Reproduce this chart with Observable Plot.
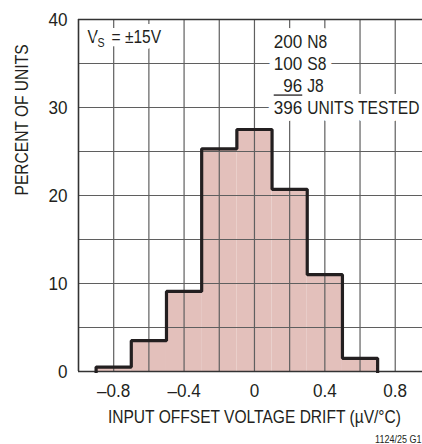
<!DOCTYPE html>
<html><head><meta charset="utf-8">
<script src="https://cdn.jsdelivr.net/npm/d3@7"></script>
<script src="https://cdn.jsdelivr.net/npm/@observablehq/plot@0.6"></script>
<style>
html,body{margin:0;padding:0;background:#fff;}
</style></head><body><div id="chart"></div>
<script>
const binStart = [-0.9, -0.7, -0.5, -0.3, -0.1, 0.1, 0.3, 0.5];
const binEnd   = [-0.7, -0.5, -0.3, -0.1, 0.1, 0.3, 0.5, 0.7];
const percent  = [0.5, 3.5, 9.1, 25.3, 27.5, 20.7, 11.0, 1.5];
const xTicks = [-0.8, -0.4, 0, 0.4, 0.8];
const yTicks = [0, 10, 20, 30, 40];
const xGrid = [-0.8, -0.6, -0.4, -0.2, 0, 0.2, 0.4, 0.6, 0.8];
const yGrid = [5, 10, 15, 20, 25, 30, 35];
const counts = ["200", "100", "\u200796", "396"];
const packages = ["N8", "S8", "J8", "UNITS TESTED"];
const legendRows = [37.5, 35, 32.5, 30];

const FONT = '"Liberation Sans",Arial,sans-serif';
const CONDENSE = 0.82, CONDENSE_NUM = 0.9;

const bins = binStart.map((s, i) => ({x1: s, x2: binEnd[i], y: percent[i]}));
const outline = [{x: binStart[0], y: 0}];
bins.forEach(b => { outline.push({x: b.x1, y: b.y}); outline.push({x: b.x2, y: b.y}); });
outline.push({x: binEnd[binEnd.length - 1], y: 0});
const legend = counts.map((c, i) => ({c, p: packages[i], y: legendRows[i]}));

const fmt = d => d < 0 ? "\u2013" + Math.abs(d) : String(d);
const INK = "#231f20";
const halo = w => ({fill: INK, stroke: "white", strokeWidth: w, paintOrder: "stroke"});

const plot = Plot.plot({
  width: 422, height: 444,
  marginLeft: 78, marginRight: 0, marginTop: 19, marginBottom: 73,
  style: {fontFamily: FONT, fontSize: "19px", color: INK, background: "#fff"},
  x: {domain: [-1, 0.955], ticks: xTicks},
  y: {domain: [0, 40], ticks: yTicks},
  marks: [
    Plot.rectY(bins, {x1: "x1", x2: "x2", y1: 0, y2: "y", fill: "#e3c0bb"}),
    Plot.gridX(xGrid, {stroke: "#5f5f5f", strokeOpacity: 1, strokeWidth: 1.2}),
    Plot.gridY(yGrid, {stroke: "#5f5f5f", strokeOpacity: 1, strokeWidth: 1.2}),
    Plot.ruleY([0, 40], {stroke: "#333", strokeWidth: 1.6}),
    Plot.ruleX([-1], {stroke: "#333", strokeWidth: 1.6}),
    Plot.line(outline, {x: "x", y: "y", stroke: INK, strokeWidth: 3.2, strokeLinejoin: "miter", strokeLinecap: "square"}),
    Plot.axisX(xTicks, {tickSize: 0, tickPadding: 12, tickFormat: fmt, label: null, fill: INK}),
    Plot.axisY(yTicks, {tickSize: 0, tickPadding: 11, label: null, fill: INK}),
    Plot.text(["INPUT OFFSET VOLTAGE DRIFT (\u00b5V/\u00b0C)"], {x: [0], frameAnchor: "bottom", lineAnchor: "middle", dy: 45, fill: INK}),
    Plot.text(["PERCENT OF UNITS"], {frameAnchor: "left", lineAnchor: "middle", dx: -57, rotate: -90, fill: INK}),
    Plot.text(["1124/25 G1"], {frameAnchor: "bottom-right", lineAnchor: "middle", dx: -1, dy: 68, textAnchor: "end", fontSize: 11, fill: INK}),
    // V_S annotation
    Plot.text(["V"], {frameAnchor: "top-left", lineAnchor: "middle", dx: 9, dy: 17, textAnchor: "start", ...halo(12)}),
    Plot.text(["S"], {frameAnchor: "top-left", lineAnchor: "middle", dx: 19, dy: 23, textAnchor: "start", fontSize: 13, ...halo(10)}),
    Plot.text(["= \u00b115V"], {frameAnchor: "top-left", lineAnchor: "middle", dx: 33, dy: 17, textAnchor: "start", ...halo(12)}),
    // units legend
    Plot.text(legend, {x: () => 0.3, y: "y", text: "c", textAnchor: "end", dx: -5, ...halo(14)}),
    Plot.text(legend, {x: () => 0.3, y: "y", text: "p", textAnchor: "start", ...halo(14)})
  ]
});
document.getElementById("chart").appendChild(plot);

const ns = "http://www.w3.org/2000/svg";
// rule under the last addend of the unit count (measured before condensing)
let underline = null;
plot.querySelectorAll("text").forEach(t => {
  if (t.textContent === counts[2] && t.getAttribute("stroke") == null && !underline) {
    const b = t.getBBox();
    underline = document.createElementNS(ns, "line");
    underline.setAttribute("x1", b.x);
    underline.setAttribute("x2", b.x + b.width);
    underline.setAttribute("y1", b.y + b.height - 0.5);
    underline.setAttribute("y2", b.y + b.height - 0.5);
    underline.setAttribute("stroke", INK);
    underline.setAttribute("stroke-width", 1.3);
    underline._text = t;
  }
});
// emulate a condensed face by narrowing each label horizontally about its anchor
plot.querySelectorAll("text").forEach(t => {
  const len = t.getComputedTextLength();
  if (len > 0) {
    const k = /^[\d\u2013\u2007.\s]+$/.test(t.textContent) ? CONDENSE_NUM : CONDENSE;
    const ax = +t.getAttribute("x") || 0;
    const tr = t.getAttribute("transform") || "";
    t.setAttribute("transform", `${tr} translate(${ax},0) scale(${k},1) translate(${-ax},0)`);
  }
});
if (underline) {
  const t = underline._text;
  underline.setAttribute("transform", t.getAttribute("transform") || "");
  t.parentNode.appendChild(underline);
}
</script></body></html>
